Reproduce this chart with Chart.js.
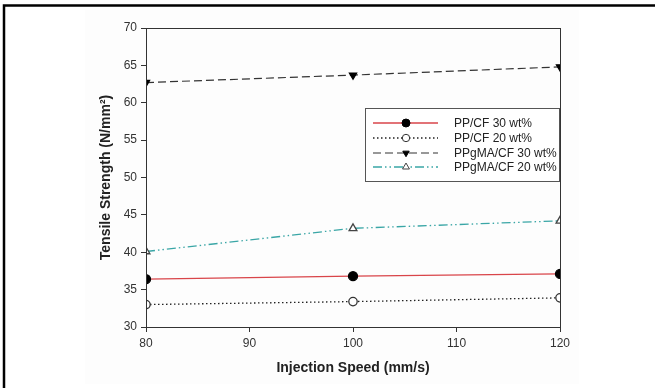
<!DOCTYPE html>
<html>
<head>
<meta charset="utf-8">
<script src="https://cdn.jsdelivr.net/npm/chart.js@4.4.1/dist/chart.umd.min.js"></script>
<style>
  html, body { margin: 0; padding: 0; background: #fff; }
  #wrap { width: 655px; height: 388px; position: relative; }
</style>
</head>
<body>
<div id="wrap"><canvas id="myChart" width="655" height="388"></canvas></div>
<script>
// data
var speeds = [80, 100, 120];
var ppcf30 = [36.4, 36.8, 37.1];
var ppcf20 = [33.0, 33.4, 33.9];
var ppgma30 = [62.7, 63.7, 64.8];
var ppgma20 = [40.1, 43.2, 44.2];
var seriesNames = ["PP/CF 30 wt%", "PP/CF 20 wt%", "PPgMA/CF 30 wt%", "PPgMA/CF 20 wt%"];
var yTicks = [30, 35, 40, 45, 50, 55, 60, 65, 70];
var xTicks = [80, 90, 100, 110, 120];

function pts(vals) {
    return speeds.map(function (s, i) { return { x: s, y: vals[i] }; });
}

// frame, faint page tint, plot box and legend box
var decor = {
    id: 'decor',
    beforeDraw: function (chart) {
        var ctx = chart.ctx;
        ctx.save();
        ctx.fillStyle = '#fdfdfd';
        ctx.fillRect(85, 10, 494, 374);
        ctx.strokeStyle = '#000';
        ctx.lineWidth = 2.5;
        ctx.beginPath();
        ctx.moveTo(4, 388);
        ctx.lineTo(4, 5.5);
        ctx.lineTo(655, 5.5);
        ctx.stroke();
        ctx.restore();
    },
    afterDraw: function (chart) {
        var ctx = chart.ctx;
        var a = chart.chartArea;
        ctx.save();
        ctx.strokeStyle = '#333';
        ctx.lineWidth = 1;
        ctx.strokeRect(Math.round(a.left) + 0.5, Math.round(a.top) + 0.5,
            Math.round(a.right - a.left), Math.round(a.bottom - a.top));

        // legend
        var lx = 365.5, ly = 108.5, lw = 194, lh = 73;
        ctx.fillStyle = '#fff';
        ctx.fillRect(lx, ly, lw, lh);
        ctx.strokeStyle = '#555';
        ctx.strokeRect(lx, ly, lw, lh);
        var rows = [123, 138, 153, 167];
        chart.data.datasets.forEach(function (ds, i) {
            var y = rows[i];
            ctx.strokeStyle = ds.borderColor;
            ctx.lineWidth = ds.borderWidth;
            ctx.setLineDash(ds.borderDash || []);
            ctx.beginPath();
            ctx.moveTo(373, y);
            ctx.lineTo(438, y);
            ctx.stroke();
            ctx.setLineDash([]);
            ctx.fillStyle = ds.pointBackgroundColor;
            ctx.strokeStyle = ds.pointBorderColor;
            ctx.lineWidth = 1;
            Chart.helpers.drawPoint(ctx, {
                pointStyle: ds.pointStyle,
                rotation: ds.pointRotation || 0,
                radius: ds.pointRadius - 0.5,
                borderWidth: 1
            }, 406, y);
            ctx.fillStyle = '#222';
            ctx.font = '12px "Liberation Sans", Arial, sans-serif';
            ctx.textBaseline = 'middle';
            ctx.fillText(ds.label, 454, y + 0.5);
        });
        ctx.restore();
    }
};

new Chart("myChart", {
    type: "line",
    data: {
        datasets: [{
            label: seriesNames[0],
            data: pts(ppcf30),
            borderColor: "#d9454a",
            borderWidth: 1.3,
            pointStyle: "circle",
            pointRadius: 4.5,
            pointBackgroundColor: "#000",
            pointBorderColor: "#000",
            fill: false
        }, {
            label: seriesNames[1],
            data: pts(ppcf20),
            borderColor: "#222",
            borderWidth: 1.3,
            borderDash: [1.5, 2.5],
            pointStyle: "circle",
            pointRadius: 4.2,
            pointBackgroundColor: "#fff",
            pointBorderColor: "#333",
            fill: false
        }, {
            label: seriesNames[2],
            data: pts(ppgma30),
            borderColor: "#333",
            borderWidth: 1.2,
            borderDash: [8, 4],
            pointStyle: "triangle",
            pointRotation: 180,
            pointRadius: 4.2,
            pointBackgroundColor: "#000",
            pointBorderColor: "#000",
            fill: false
        }, {
            label: seriesNames[3],
            data: pts(ppgma20),
            borderColor: "#3aa6a6",
            borderWidth: 1.3,
            borderDash: [9, 3, 1.5, 3, 1.5, 3],
            pointStyle: "triangle",
            pointRadius: 4.5,
            pointBackgroundColor: "#fff",
            pointBorderColor: "#444",
            fill: false
        }]
    },
    options: {
        responsive: false,
        animation: false,
        layout: { padding: { left: 98, top: 28, right: 95, bottom: 11 } },
        plugins: { legend: { display: false }, tooltip: { enabled: false } },
        scales: {
            x: {
                type: "linear",
                min: 80,
                max: 120,
                afterBuildTicks: function (axis) {
                    axis.ticks = xTicks.map(function (v) { return { value: v }; });
                },
                afterFit: function (axis) { axis.height = 50; },
                grid: { drawOnChartArea: false, tickLength: 5, color: "#333" },
                border: { color: "#333" },
                ticks: { color: "#333", padding: 4, font: { family: "Liberation Sans", size: 12 } },
                title: {
                    display: true,
                    text: "Injection Speed (mm/s)",
                    color: "#222",
                    padding: 0,
                    font: { family: "Liberation Sans", size: 14, weight: "bold" }
                }
            },
            y: {
                min: 30,
                max: 70,
                afterBuildTicks: function (axis) {
                    axis.ticks = yTicks.map(function (v) { return { value: v }; });
                },
                afterFit: function (axis) { axis.width = 48; },
                grid: { drawOnChartArea: false, tickLength: 5, color: "#333" },
                border: { color: "#333" },
                ticks: { color: "#333", padding: 4, font: { family: "Liberation Sans", size: 12 } },
                title: {
                    display: true,
                    text: "Tensile Strength (N/mm²)",
                    color: "#222",
                    padding: 0,
                    font: { family: "Liberation Sans", size: 14, weight: "bold" }
                }
            }
        }
    },
    plugins: [decor]
});
</script>
</body>
</html>
